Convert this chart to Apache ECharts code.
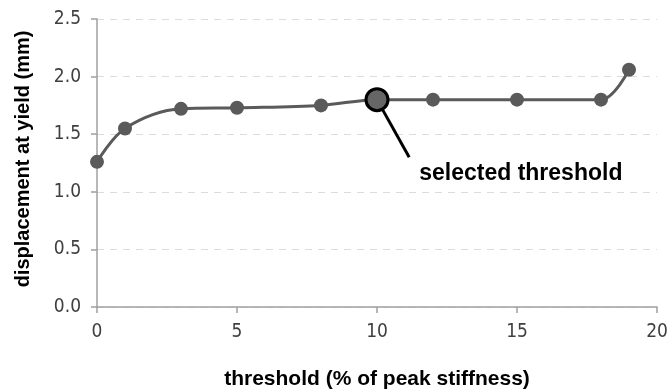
<!DOCTYPE html>
<html>
<head>
<meta charset="utf-8">
<script src="https://cdn.jsdelivr.net/npm/echarts@6/dist/echarts.min.js"></script>
<style>html,body{margin:0;padding:0;background:#fff}#c{width:668px;height:391px}</style>
</head>
<body>
<div id="c"></div>
<script>
var thresholds = [0, 1, 3, 5, 8, 10, 12, 15, 18, 19];
var displacement = [1.26, 1.55, 1.72, 1.73, 1.75, 1.80, 1.80, 1.80, 1.80, 2.06];
var selectedIndex = 5;
var annotationEnd = [11.15, 1.30];
var annotationText = 'selected threshold';
var xTitle = 'threshold (% of peak stiffness)';
var yTitle = 'displacement at yield (mm)';

var narrow = "'Liberation Sans Narrow', 'Arial Narrow', 'DejaVu Sans Condensed', sans-serif";
var bold = "'Liberation Sans', Arial, sans-serif";

var mainData = thresholds.map(function (t, i) {
  var item = { value: [t, displacement[i]] };
  if (i === selectedIndex) {
    item.symbolSize = 22;
    item.itemStyle = { color: '#666666', borderColor: '#000000', borderWidth: 3 };
  }
  return item;
});

var sel = [thresholds[selectedIndex], displacement[selectedIndex]];

var chart = echarts.init(document.getElementById('c'));
chart.setOption({
  animation: false,
  backgroundColor: '#ffffff',
  grid: { left: 97, right: 11, top: 19, bottom: 84, containLabel: false, outerBoundsMode: 'none' },
  xAxis: {
    type: 'value', min: 0, max: 20, interval: 5,
    name: xTitle, nameLocation: 'middle', nameGap: 62,
    nameTextStyle: { fontFamily: bold, fontWeight: 'bold', fontSize: 21, color: '#000' },
    axisLine: { show: true, lineStyle: { color: '#a0a0a0', width: 1.5 } },
    axisTick: { show: true, inside: false, length: 6, lineStyle: { color: '#a0a0a0', width: 1.5 } },
    axisLabel: { fontFamily: narrow, fontSize: 19, color: '#404040', margin: 16 },
    splitLine: { show: false }
  },
  yAxis: {
    type: 'value', min: 0, max: 2.5, interval: 0.5,
    name: yTitle, nameLocation: 'middle', nameGap: 64,
    nameTextStyle: { fontFamily: bold, fontWeight: 'bold', fontSize: 20, color: '#000', padding: [0, 0, 0, 8] },
    axisLine: { show: true, lineStyle: { color: '#a0a0a0', width: 1.5 } },
    axisTick: { show: true, inside: false, length: 6, lineStyle: { color: '#a0a0a0', width: 1.5 } },
    axisLabel: { fontFamily: narrow, fontSize: 19, color: '#404040', margin: 16,
      formatter: function (v) { return v.toFixed(1); } },
    splitLine: { show: true, lineStyle: { color: '#dcdcdc', type: [7, 6], width: 1 } }
  },
  series: [
    {
      type: 'line', z: 1,
      data: [sel, annotationEnd],
      symbol: 'none',
      lineStyle: { color: '#000000', width: 3 },
      label: { show: false },
      endLabel: {
        show: true, formatter: annotationText, offset: [2, 16],
        fontFamily: bold, fontWeight: 'bold', fontSize: 23, color: '#000000'
      },
      silent: true
    },
    {
      type: 'line', z: 3,
      data: mainData,
      smooth: 0.35,
      symbol: 'circle', symbolSize: 14,
      lineStyle: { color: '#5a5a5a', width: 3 },
      itemStyle: { color: '#5a5a5a' }
    }
  ]
});
</script>
</body>
</html>
